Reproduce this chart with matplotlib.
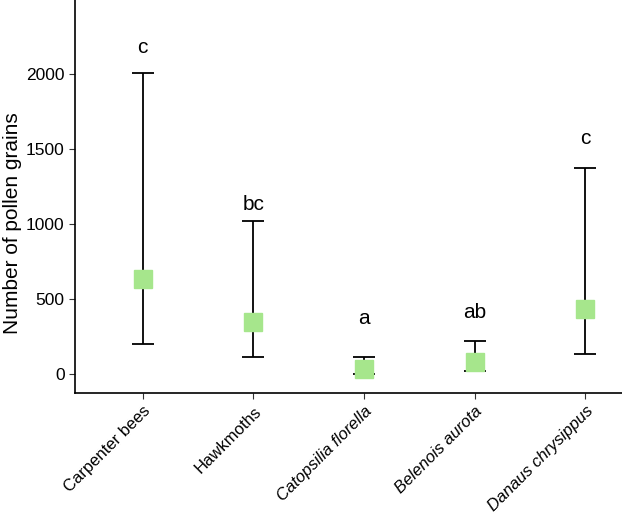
import numpy as np
import matplotlib
matplotlib.use("Agg")
import matplotlib.pyplot as plt

plt.rcParams['font.family'] = ['Liberation Sans', 'DejaVu Sans']

# pollen grain counts per visitor group
groups = ['Carpenter bees', 'Hawkmoths', 'Catopsilia florella', 'Belenois aurota', 'Danaus chrysippus']
italic = [False, False, True, True, True]
means = [633, 349, 33, 80, 433]
lower = [200, 115, 2, 22, 132]
upper = [2008, 1022, 111, 222, 1375]
letters = ['c', 'bc', 'a', 'ab', 'c']
letter_y = [2140, 1093, 331, 375, 1533]

x = np.arange(1, len(groups) + 1)
means = np.array(means)
yerr = [means - np.array(lower), np.array(upper) - means]

fig = plt.figure(figsize=(6.22, 5.13), dpi=100)
ax = fig.add_axes([75 / 622, 1 - 393 / 513, 547 / 622, 393 / 513])

ax.errorbar(x, means, yerr=yerr, fmt='none', ecolor='black', elinewidth=1.3,
            capsize=8, capthick=1.3, zorder=2)
ax.plot(x, means, 's', color='#a6e68c', markersize=13, zorder=3)

for xi, t, yi in zip(x, letters, letter_y):
    ax.text(xi, yi, t, ha='center', va='baseline', fontsize=15)

ax.set_xlim(0.39, 5.33)
ax.set_ylim(-127, 2493)
ax.set_yticks([0, 500, 1000, 1500, 2000])
ax.set_xticks(x)
ax.set_xticklabels(groups, rotation=45, ha='right', rotation_mode='anchor', fontsize=12)
for lab, it in zip(ax.get_xticklabels(), italic):
    if it:
        lab.set_style('italic')
ax.tick_params(axis='y', labelsize=12.5, length=4, color='#333333')
ax.tick_params(axis='x', length=4, color='#333333')
ax.set_ylabel('Number of pollen grains', fontsize=15)
ax.yaxis.set_label_coords(-0.097, 0.433)

ax.spines['top'].set_visible(False)
ax.spines['right'].set_visible(False)
ax.spines['left'].set_linewidth(1.2)
ax.spines['bottom'].set_linewidth(1.2)

fig.savefig('out.png', dpi=100)
